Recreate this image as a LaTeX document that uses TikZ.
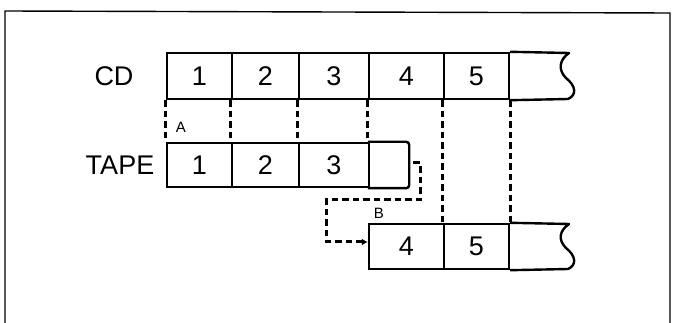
\documentclass[tikz,border=0pt]{standalone}
\usepackage{fontspec}
\setmainfont{Liberation Sans}
\usetikzlibrary{arrows.meta}
\begin{document}
\begin{tikzpicture}[x=1pt,y=-1pt,
  cell/.style={draw, line width=2.4pt, inner sep=0pt, font=\fontsize{27}{27}\selectfont},
  lbl/.style={font=\fontsize{27}{27}\selectfont, inner sep=0pt},
  small/.style={font=\fontsize{15}{15}\selectfont, inner sep=0pt},
  dsh/.style={line width=3pt, dash pattern=on 6.5pt off 4pt},
  edge/.style={line width=2.4pt, line join=round},
]
\useasboundingbox (0,0) rectangle (673,323);
\draw[line width=1.4pt] (5,330) -- (5,11) -- (670,13) -- (670,330);

% labels
\node[lbl] (cd) at (114,76) {CD};
\node[lbl] (tape) at (120,165) {TAPE};
\node[small] (A) at (181,127) {A};
\node[small] (B) at (379,213) {B};

% CD row
\begin{scope}[every node/.style={cell, minimum height=46pt}]
\node[minimum width=65pt] (c1) at (199.5,76) {1};
\node[minimum width=67pt] (c2) at (265.5,76) {2};
\node[minimum width=70pt] (c3) at (334,76) {3};
\node[minimum width=75pt] (c4) at (406.5,76) {4};
\node[minimum width=65pt] (c5) at (476.5,76) {5};
\end{scope}
\draw[edge] (c5.north east) -- (569,53) .. controls (559,60) and (558,70) .. (566,78)
  .. controls (576,86) and (577,95) .. (568,99) -- (c5.south east);

% TAPE row
\begin{scope}[every node/.style={cell, minimum height=44pt}]
\node[minimum width=65pt] (t1) at (199.5,165) {1};
\node[minimum width=67pt] (t2) at (265.5,165) {2};
\node[minimum width=70pt] (t3) at (334,165) {3};
\node[minimum width=39pt, draw=none] (t4) at (388.5,165) {};
\end{scope}
\draw[edge, rounded corners=3pt] (t4.north west) -- (t4.north east) -- (t4.south east) -- (t4.south west);

% bottom row
\begin{scope}[every node/.style={cell, minimum height=45pt}]
\node[minimum width=75pt] (b4) at (406.5,246.5) {4};
\node[minimum width=65pt] (b5) at (476.5,246.5) {5};
\end{scope}
\draw[edge] (b5.north east) -- (569,224) .. controls (559,231) and (558,240) .. (566,248)
  .. controls (576,256) and (577,265) .. (568,269) -- (b5.south east);

% dashed guides
\draw[dsh] (c1.south west) -- (t1.north west);
\draw[dsh] (c2.south west) -- (t2.north west);
\draw[dsh] (c3.south west) -- (t3.north west);
\draw[dsh] (c4.south west) -- (t4.north west);
\draw[dsh] (c5.south west) -- (b5.north west);
\draw[dsh] (c5.south east) -- (b5.north east);

% connector B
\coordinate (hs) at (413,163);
\draw[dsh, -{Latex[length=6pt,width=7pt]}] (hs) -- (420,163) -- (420,200) -- (326,200) -- (326,242) -- ([yshift=4.5pt]b4.west);
\end{tikzpicture}
\end{document}
